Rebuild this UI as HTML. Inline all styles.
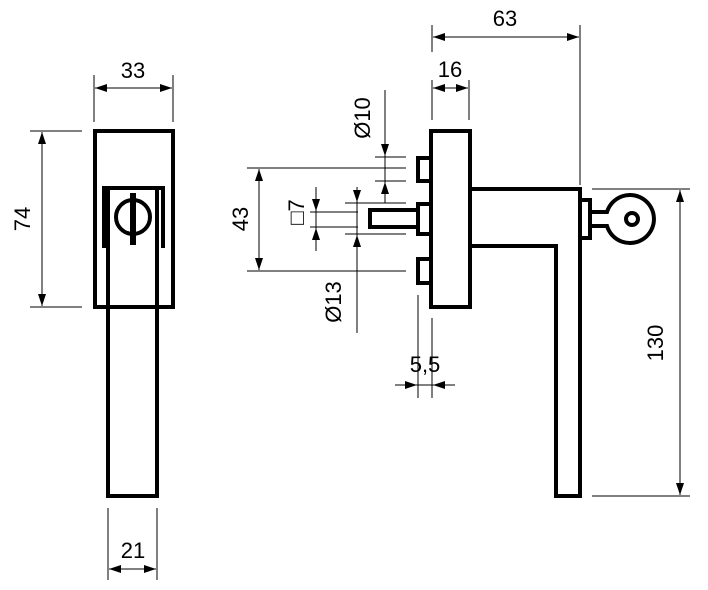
<!DOCTYPE html>
<html><head><meta charset="utf-8"><style>
html,body{margin:0;padding:0;background:#fff;}
svg{display:block;}
text{font-family:"Liberation Sans",Arial,sans-serif;font-size:22px;fill:#000;}
</style></head><body>
<svg width="708" height="590" viewBox="0 0 708 590" xmlns="http://www.w3.org/2000/svg">
<defs>
<marker id="a" markerWidth="12" markerHeight="8" refX="12" refY="4" orient="auto-start-reverse" markerUnits="userSpaceOnUse">
<path d="M0,0 L12,4 L0,8 Z" fill="#000"/>
</marker>
</defs>
<g stroke="#000" stroke-width="1" fill="none">
<line x1="94" y1="75" x2="94" y2="122"/><line x1="173" y1="75" x2="173" y2="122"/>
<line x1="95" y1="88" x2="172" y2="88" marker-start="url(#a)" marker-end="url(#a)"/>
<line x1="30" y1="131" x2="82" y2="131"/><line x1="30" y1="307" x2="82" y2="307"/>
<line x1="42" y1="132" x2="42" y2="306" marker-start="url(#a)" marker-end="url(#a)"/>
<line x1="108" y1="508" x2="108" y2="580"/><line x1="157" y1="508" x2="157" y2="580"/>
<line x1="109" y1="569" x2="156" y2="569" marker-start="url(#a)" marker-end="url(#a)"/>
<line x1="432" y1="25" x2="432" y2="52"/><line x1="580" y1="25" x2="580" y2="185"/>
<line x1="433" y1="37" x2="579" y2="37" marker-start="url(#a)" marker-end="url(#a)"/>
<line x1="432" y1="80" x2="432" y2="120"/><line x1="469" y1="80" x2="469" y2="120"/>
<line x1="433" y1="88" x2="468" y2="88" marker-start="url(#a)" marker-end="url(#a)"/>
<line x1="247" y1="168" x2="406" y2="168"/><line x1="247" y1="271" x2="406" y2="271"/>
<line x1="259" y1="169" x2="259" y2="270" marker-start="url(#a)" marker-end="url(#a)"/>
<line x1="375" y1="157" x2="406" y2="157"/><line x1="375" y1="181" x2="406" y2="181"/>
<line x1="385" y1="90" x2="385" y2="156" marker-end="url(#a)"/>
<line x1="385" y1="203" x2="385" y2="182" marker-end="url(#a)"/>
<line x1="385" y1="156" x2="385" y2="182"/>
<line x1="310" y1="212" x2="358" y2="212"/><line x1="310" y1="227" x2="358" y2="227"/>
<line x1="316" y1="187" x2="316" y2="211" marker-end="url(#a)"/>
<line x1="316" y1="251" x2="316" y2="228" marker-end="url(#a)"/>
<line x1="316" y1="211" x2="316" y2="228"/>
<line x1="345" y1="203" x2="406" y2="203"/><line x1="345" y1="234" x2="406" y2="234"/>
<line x1="357" y1="187" x2="357" y2="202" marker-end="url(#a)"/>
<line x1="357" y1="333" x2="357" y2="235" marker-end="url(#a)"/>
<line x1="357" y1="202" x2="357" y2="235"/>
<line x1="418" y1="295" x2="418" y2="398"/><line x1="432" y1="318" x2="432" y2="398"/>
<line x1="395" y1="385" x2="417" y2="385" marker-end="url(#a)"/>
<line x1="455" y1="385" x2="433" y2="385" marker-end="url(#a)"/>
<line x1="417" y1="385" x2="433" y2="385"/>
<line x1="592" y1="189" x2="690" y2="189"/><line x1="592" y1="496" x2="690" y2="496"/>
<line x1="680" y1="190" x2="680" y2="495" marker-start="url(#a)" marker-end="url(#a)"/>
</g>
<g stroke="#000" stroke-width="4" fill="none" stroke-linejoin="miter">
<rect x="95" y="131" width="78" height="176"/>
<path d="M104,248 L104,188 L163,188 L163,248"/>
<path d="M108,188 L108,496 L157,496 L157,188"/>
<circle cx="133" cy="217" r="17"/>
<rect x="431" y="131" width="39" height="176"/>
<rect x="418" y="158" width="13" height="23"/>
<rect x="418" y="204" width="13" height="30"/>
<rect x="418" y="259" width="13" height="24"/>
<rect x="370" y="210" width="48" height="17"/>
<path d="M470,189 L580,189 L580,496 L556,496 L556,246 L470,246"/>
<rect x="580" y="200" width="10" height="38"/>
<path fill="none" d="M590,212 L607,212 A24,24 0 1 1 607,226 L590,226"/>
<circle cx="632" cy="219" r="6" fill="none"/>
</g>
<line x1="133" y1="193" x2="133" y2="245" stroke="#000" stroke-width="6"/>
<text x="133" y="78" text-anchor="middle">33</text>
<text x="133" y="558" text-anchor="middle">21</text>
<text x="505" y="26" text-anchor="middle">63</text>
<text x="450" y="77" text-anchor="middle">16</text>
<text x="425" y="372" text-anchor="middle">5,5</text>
<text transform="translate(30,219) rotate(-90)" text-anchor="middle">74</text>
<text transform="translate(248,219) rotate(-90)" text-anchor="middle">43</text>
<text transform="translate(370,118) rotate(-90)" text-anchor="middle">Ø10</text>
<text transform="translate(304,212) rotate(-90)" text-anchor="middle">□7</text>
<text transform="translate(341,302) rotate(-90)" text-anchor="middle">Ø13</text>
<text transform="translate(663,343) rotate(-90)" text-anchor="middle">130</text>
</svg>
</body></html>
